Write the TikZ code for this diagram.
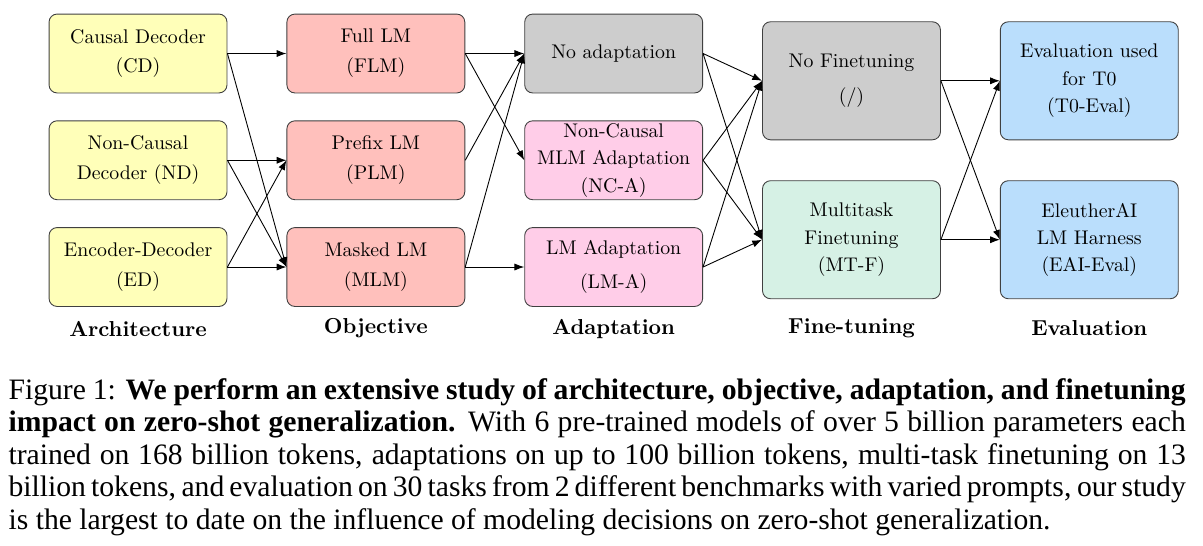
\documentclass[tikz,border=0pt]{standalone}
\usepackage{fontspec}
\newfontfamily\capfont{Liberation Serif}
\newfontfamily\diafont{lmroman10-regular.otf}[BoldFont=lmroman10-bold.otf]
\usetikzlibrary{positioning,arrows.meta}
\definecolor{archcol}{RGB}{255,255,185}
\definecolor{objcol}{RGB}{255,192,188}
\definecolor{adacol}{RGB}{255,205,232}
\definecolor{nonecol}{RGB}{205,205,205}
\definecolor{mtfcol}{RGB}{214,241,229}
\definecolor{evalcol}{RGB}{186,222,252}
\begin{document}
\begin{tikzpicture}
		[mynode/.style={draw=black!75,line width=0.3pt,rounded corners=2.7pt,minimum width=60pt,minimum height=26.6pt,
			inner sep=0pt,align=center,font=\diafont\fontsize{6.67}{9.2}\selectfont},
			tallnode/.style={mynode,minimum height=39.8pt},
			steplabel/.style={font=\diafont\bfseries\fontsize{7.3}{8}\selectfont},
			link/.style={line width=0.3pt,-{Latex[length=3.3pt,width=2.4pt]}},
			node distance=9.1pt and 19.9pt]
	\useasboundingbox (0,0) rectangle (405.7pt,-183.8pt);
	% architecture
	\node[mynode,fill=archcol] (cd) at (46.55pt,-18.05pt) {Causal Decoder\\[0.9pt](CD)};
	\node[mynode,fill=archcol,below=of cd] (nd) {Non-Causal\\[0.9pt]Decoder (ND)};
	\node[mynode,fill=archcol,below=of nd] (ed) {Encoder-Decoder\\[0.9pt](ED)};
	% objective
	\node[mynode,fill=objcol,right=of cd] (flm) {Full LM\\[0.9pt](FLM)};
	\node[mynode,fill=objcol,right=of nd] (plm) {Prefix LM\\[0.9pt](PLM)};
	\node[mynode,fill=objcol,right=of ed] (mlm) {Masked LM\\[0.9pt](MLM)};
	% adaptation
	\node[mynode,fill=nonecol,right=of flm] (noad) {No adaptation};
	\node[mynode,fill=adacol,right=of plm] (nca) {Non-Causal\\MLM Adaptation\\(NC-A)};
	\node[mynode,fill=adacol,right=of mlm] (lma) {LM Adaptation\\[2.3pt](LM-A)};
	% fine-tuning
	\node[tallnode,fill=nonecol,right=of nca,yshift=26.8pt] (nft) {No Finetuning\\[2.6pt](/)};
	\node[tallnode,fill=mtfcol,right=of nca,yshift=-26.8pt] (mtf) {Multitask\\Finetuning\\(MT-F)};
	% evaluation
	\node[tallnode,fill=evalcol,right=of nft] (t0) {Evaluation used\\for T0\\(T0-Eval)};
	\node[tallnode,fill=evalcol,right=of mtf] (eai) {EleutherAI\\LM Harness\\(EAI-Eval)};
	\foreach \a/\b in {cd/flm,cd/mlm,nd/plm,nd/mlm,ed/plm,ed/mlm,
		flm/noad,flm/nca,plm/noad,mlm/noad,mlm/lma,
		noad/nft,noad/mtf,nca/nft,nca/mtf,lma/nft,lma/mtf,
		nft/t0,nft/eai,mtf/t0,mtf/eai}
	{
		\draw[link] (\a.east) -- (\b.west);
	}
	\coordinate (lblrow) at (0,-110.8pt);
	\foreach \n/\t in {ed/Architecture,mlm/Objective,lma/Adaptation,mtf/Fine-tuning,eai/Evaluation}
	{
		\node[steplabel] (\n-lbl) at (\n |- lblrow) {\t};
	}
	\node[anchor=base west,inner sep=0pt,text width=397pt,align=justify,
		font=\capfont\fontsize{10}{11}\selectfont] (caption) at (2.7pt,-134.6pt)
		{Figure 1: \textbf{We perform an extensive study of architecture, objective, adaptation, and finetuning}\linebreak
		\textbf{impact on zero-shot generalization.} With 6 pre-trained models of over 5 billion parameters each\linebreak
		trained on 168 billion tokens, adaptations on up to 100 billion tokens, multi-task finetuning on 13\linebreak
		billion tokens, and evaluation on 30 tasks from 2 different benchmarks with varied prompts, our study\linebreak
		is the largest to date on the influence of modeling decisions on zero-shot generalization.};
\end{tikzpicture}
\end{document}
